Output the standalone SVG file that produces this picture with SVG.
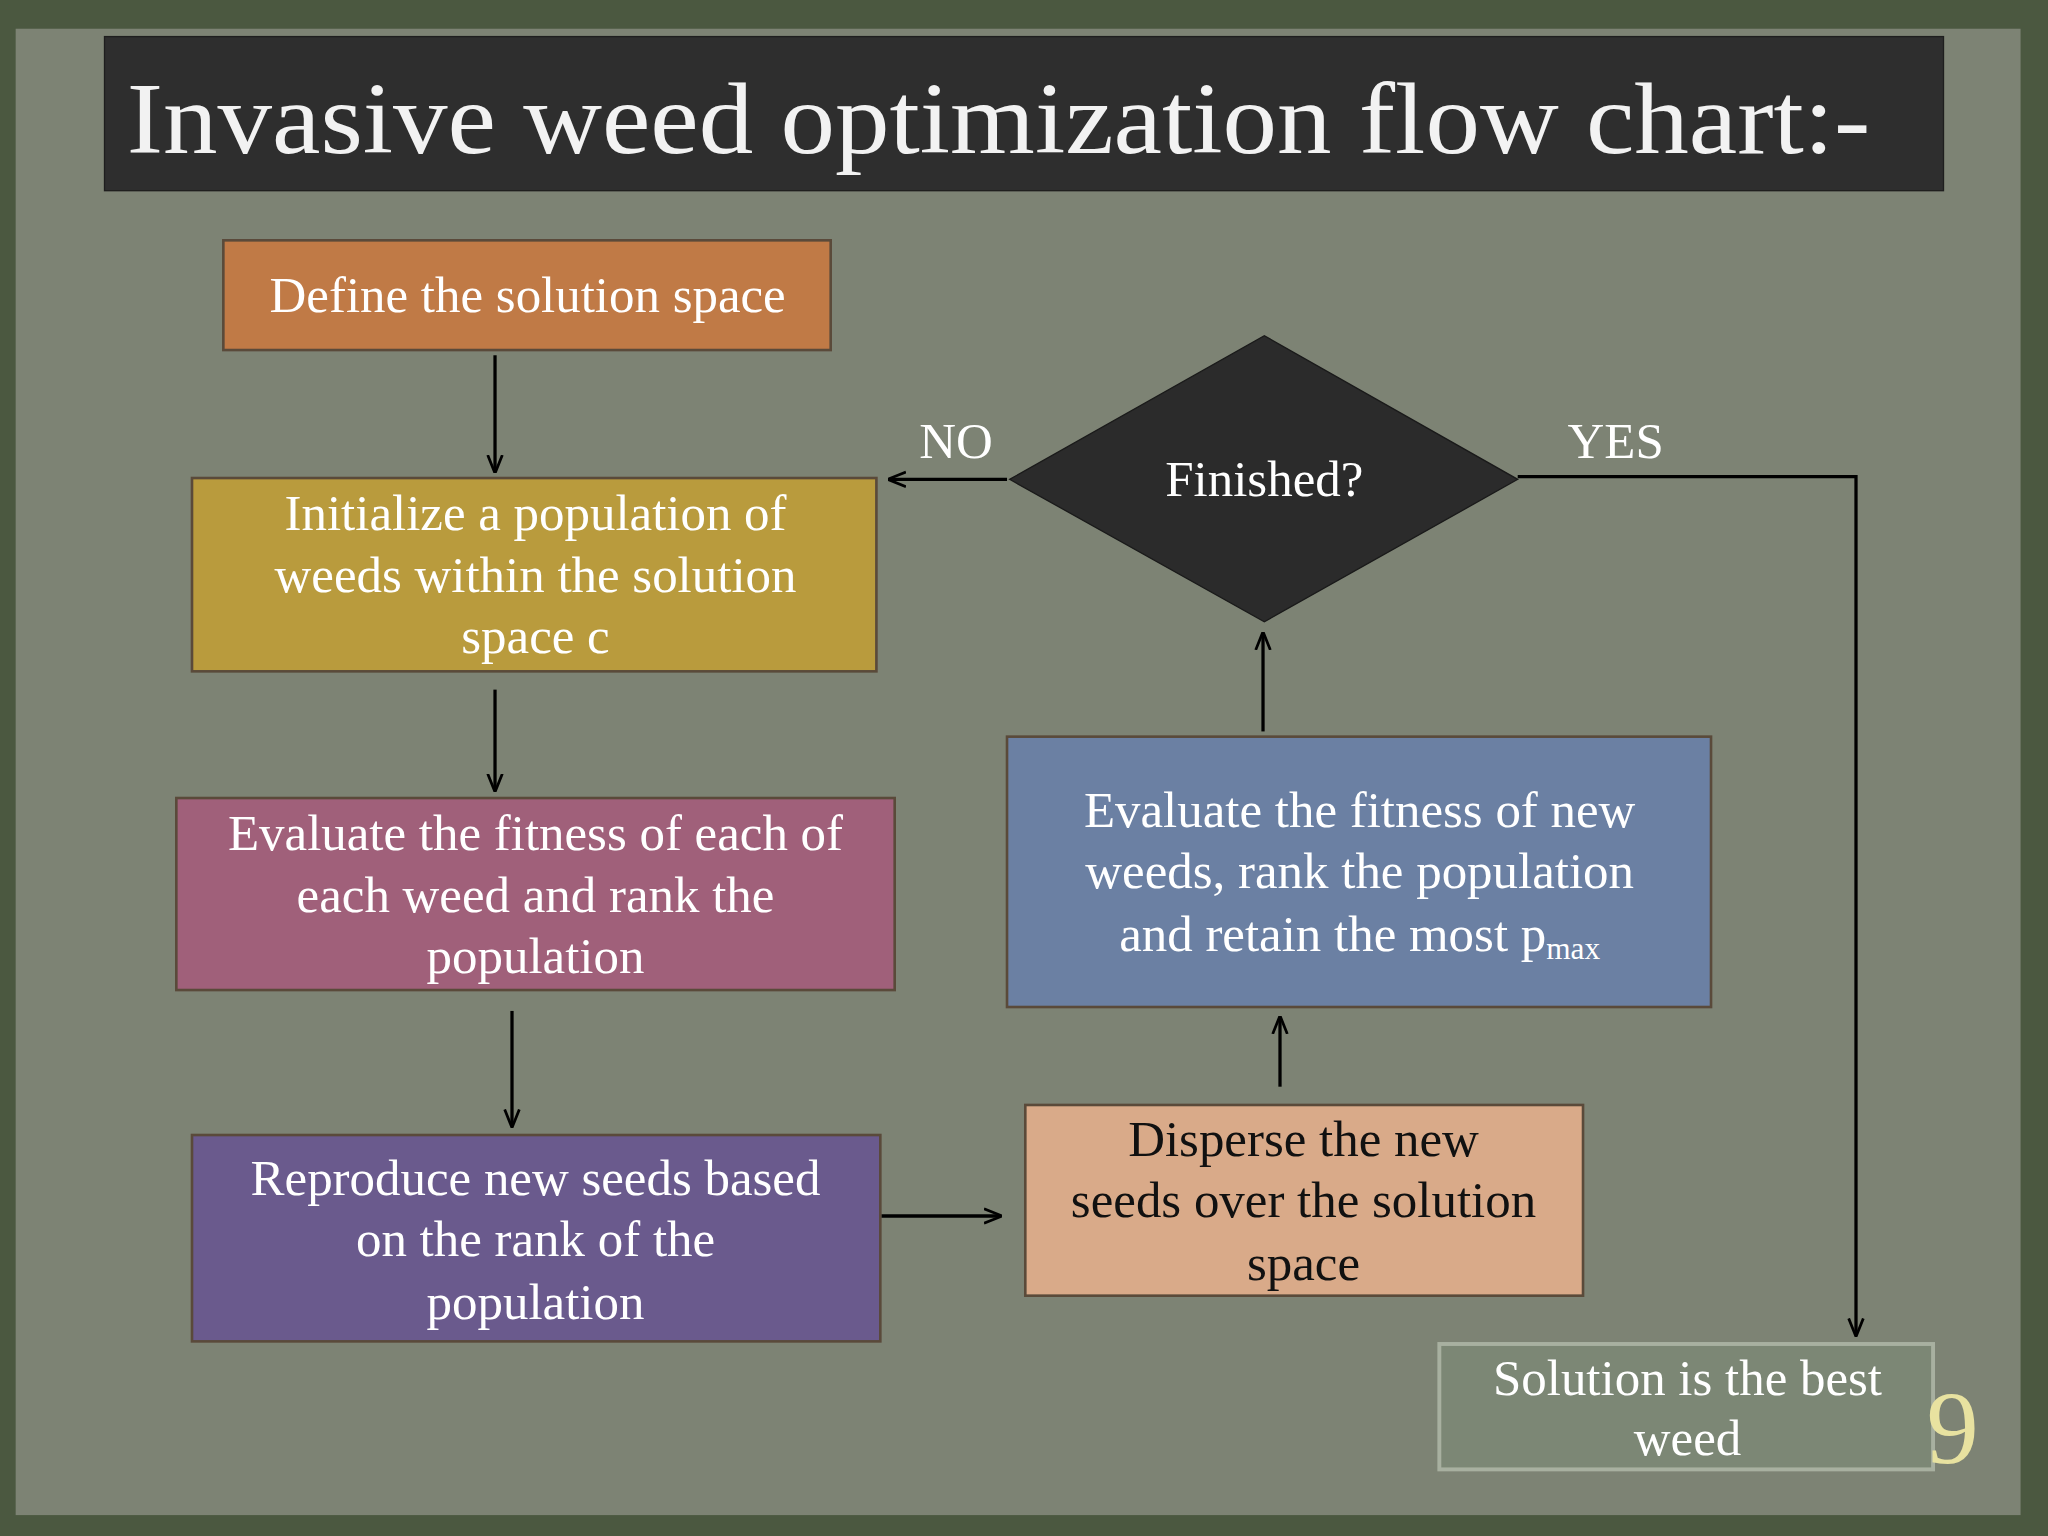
<svg xmlns="http://www.w3.org/2000/svg" width="2048" height="1536" viewBox="0 0 2048 1536">
<defs>
<marker id="ah" viewBox="0 0 10 10" refX="9" refY="5" markerWidth="14" markerHeight="14" orient="auto" markerUnits="userSpaceOnUse">
<path d="M0,1 L10,5 L0,9" fill="none" stroke="#000" stroke-width="1.5"/>
</marker>
<style>
.t{font-family:"Liberation Serif","DejaVu Serif",serif;font-size:39px;fill:#fff;text-anchor:middle}
.b{stroke:#5a4a3a;stroke-width:2}
.c{stroke:#000;stroke-width:2.5;fill:none;marker-end:url(#ah)}
</style>
</defs>
<g transform="scale(1.30612)">
<rect x="0" y="0" width="1568" height="1176" fill="#4b5840"/>
<rect x="12" y="22" width="1535" height="1138" fill="#7d8374"/>
<g id="title">
<rect x="80" y="28" width="1408" height="118" fill="#2e2e2e" stroke="#1e1e1e"/>
<text x="97" y="117" font-family="Liberation Serif,serif" font-size="78" fill="#f2f2f2" textLength="1335" lengthAdjust="spacingAndGlyphs">Invasive  weed optimization flow chart:-</text>
</g>
<g id="n1"><rect class="b" x="171" y="184" width="465" height="84" fill="#c07a46"/>
<text class="t" x="404" y="239">Define the solution space</text></g>
<g id="n2"><rect class="b" x="147" y="366" width="524" height="148" fill="#b99b3d"/>
<text class="t" x="410" y="406">Initialize a population of</text><text class="t" x="410" y="453">weeds within the solution</text><text class="t" x="410" y="500">space c</text></g>
<g id="n3"><rect class="b" x="135" y="611" width="550" height="147" fill="#a0607a"/>
<text class="t" x="410" y="651">Evaluate the fitness of each of</text><text class="t" x="410" y="698">each weed and rank the</text><text class="t" x="410" y="745">population</text></g>
<g id="n4"><rect class="b" x="147" y="869" width="527" height="158" fill="#6a5a8d"/>
<text class="t" x="410" y="915">Reproduce new seeds based</text><text class="t" x="410" y="962">on the rank of  the</text><text class="t" x="410" y="1010">population</text></g>
<g id="n5"><rect class="b" x="785" y="846" width="427" height="146" fill="#d9aa89"/>
<text class="t" x="998" y="885" style="fill:#111">Disperse the  new</text><text class="t" x="998" y="932" style="fill:#111">seeds over the solution</text><text class="t" x="998" y="980" style="fill:#111">space</text></g>
<g id="n6"><rect class="b" x="771" y="564" width="539" height="207" fill="#6b80a3"/>
<text class="t" x="1041" y="633">Evaluate the fitness of new</text><text class="t" x="1041" y="680">weeds, rank the population</text><text class="t" x="1041" y="728">and retain the most p<tspan font-size="24" dy="6">max</tspan></text></g>
<g id="n7"><polygon points="773,367 968,257 1162,367 968,476" fill="#2b2b2b" stroke="#1a1a1a"/>
<text class="t" x="968" y="380">Finished?</text></g>
<g id="n8"><rect x="1102" y="1029" width="378" height="96" fill="#7c8775" stroke="#a8b0a0" stroke-width="3"/>
<text class="t" x="1292" y="1068">Solution is the best</text><text class="t" x="1292" y="1114">weed</text></g>
<text x="1495" y="1120" font-family="Liberation Serif,serif" font-size="80" fill="#e8e2a0" text-anchor="middle">9</text>
<g id="connectors">
<line class="c" x1="379" y1="272" x2="379" y2="361"/>
<line class="c" x1="379" y1="528" x2="379" y2="605"/>
<line class="c" x1="392" y1="774" x2="392" y2="862"/>
<line class="c" x1="675" y1="931" x2="766" y2="931"/>
<line class="c" x1="980" y1="832" x2="980" y2="779"/>
<line class="c" x1="967" y1="560" x2="967" y2="485"/>
<line class="c" x1="771" y1="367" x2="681" y2="367"/>
<polyline class="c" points="1162,365 1421,365 1421,1022"/>
<text class="t" x="732" y="351">NO</text>
<text class="t" x="1237" y="351">YES</text>
</g>
</g>
</svg>
